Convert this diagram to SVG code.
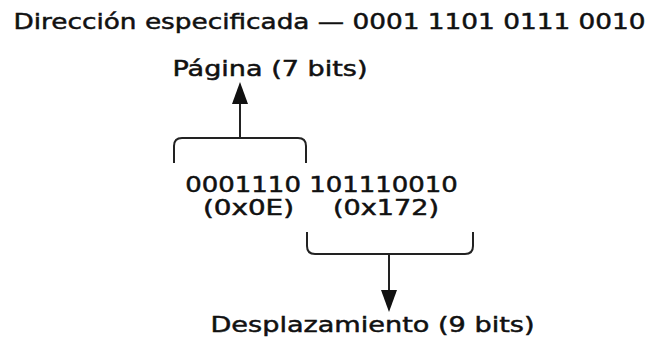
<svg xmlns="http://www.w3.org/2000/svg" width="648" height="340" viewBox="0 0 648 340">
  <style>
    .t { font-family: "DejaVu Sans", "Liberation Sans", sans-serif; font-size: 22px; fill: #111; stroke: #111; stroke-width: 0.5px; }
    .c { fill: none; stroke: #222; stroke-width: 2; }
  </style>
  <defs>
    <marker id="arrow" markerUnits="userSpaceOnUse" markerWidth="22" markerHeight="18" refX="0" refY="9" orient="auto">
      <path d="M0,1 L22,9 L0,17 Z" fill="#111"/>
    </marker>
  </defs>
  <rect width="648" height="340" fill="#fff"/>
  <g id="title">
    <text class="t" x="13.5" y="29" textLength="632" lengthAdjust="spacingAndGlyphs">Dirección especificada — 0001 1101 0111 0010</text>
  </g>
  <g id="pagina">
    <text class="t" x="172.5" y="76" textLength="195" lengthAdjust="spacingAndGlyphs">Página (7 bits)</text>
  </g>
  <g id="bits">
    <text class="t" x="185.3" y="192" textLength="272.5" lengthAdjust="spacingAndGlyphs">0001110 101110010</text>
    <text class="t" x="203" y="215" textLength="91" lengthAdjust="spacingAndGlyphs">(0x0E)</text>
    <text class="t" x="333" y="215" textLength="106" lengthAdjust="spacingAndGlyphs">(0x172)</text>
  </g>
  <g id="desplazamiento">
    <text class="t" x="210.5" y="332" textLength="324" lengthAdjust="spacingAndGlyphs">Desplazamiento (9 bits)</text>
  </g>
  <g id="connectors">
    <path class="c" d="M174,163 V146 Q174,138 182,138 H298 Q306,138 306,146 V163"/>
    <line class="c" x1="240" y1="138" x2="240" y2="104" marker-end="url(#arrow)"/>
    <path class="c" d="M307,232 V246 Q307,254 315,254 H465 Q473,254 473,246 V232"/>
    <line class="c" x1="389" y1="254" x2="389" y2="290" marker-end="url(#arrow)"/>
  </g>
</svg>
